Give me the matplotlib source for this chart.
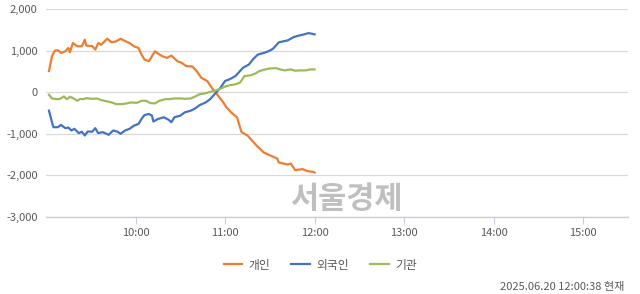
import matplotlib
matplotlib.use("Agg")
import matplotlib.pyplot as plt
import numpy as np

plt.rcParams['font.family'] = ['Noto Sans CJK KR', 'DejaVu Sans']

# minutes since 09:00
t_ind = [2,4,6,8,10,13,15,16,18,21,24,26,27,31,33,35,37,41,44,47,50,53,56,59,62,64,66,69,71,73,
         75,78,81,84,88,91,94,98,101,104,108,111,114,118,121,124,128,131,135,138,141,146,150,155,156,
         162,164,167,172,175,179,180]
v_ind = [508,865,1000,1008,944,984,1063,960,1182,1103,1103,1262,1120,1110,1024,1182,1140,1286,1198,1222,
         1286,1230,1182,1103,1063,905,786,746,865,984,930,865,825,880,746,706,627,620,508,349,
         270,111,-24,-206,-365,-484,-603,-960,-1040,-1159,-1278,-1452,-1516,-1595,-1690,
         -1738,-1714,-1873,-1849,-1897,-1913,-1930]

t_for = [2,4,5,8,10,13,15,17,19,22,24,26,28,31,33,35,38,42,45,48,50,53,56,59,62,64,66,69,71,72,
         75,79,82,84,86,90,93,97,100,103,107,110,113,117,120,123,127,130,132,136,139,142,146,149,152,
         156,159,162,166,169,172,176,180]
v_for = [-444,-722,-841,-841,-786,-865,-850,-920,-880,-984,-950,-1040,-944,-950,-865,-984,-960,-1024,-920,-950,
         -1000,-920,-881,-802,-762,-643,-548,-524,-563,-706,-643,-603,-659,-722,-603,-563,-484,-444,-389,-310,
         -246,-167,-48,111,270,310,389,508,587,667,802,905,944,984,1040,1198,1222,1246,1325,1357,
         1381,1421,1390]

t_ins = [2,4,7,9,12,14,16,18,21,23,25,27,31,34,37,41,44,47,51,54,57,61,64,67,70,73,76,80,83,86,
         90,93,97,100,103,107,110,113,117,120,123,127,130,133,137,140,143,147,150,154,157,160,164,167,170,
         174,177,180]
v_ins = [-63,-150,-167,-167,-103,-167,-111,-140,-206,-160,-170,-143,-160,-150,-190,-222,-246,-286,-286,-270,
         -246,-255,-206,-206,-262,-270,-206,-167,-167,-150,-150,-160,-150,-103,-48,-24,8,32,87,135,
         167,190,230,389,405,444,508,548,571,579,548,524,548,516,524,524,548,548]

series = ['개인', '외국인', '기관']
colors = ['#ED7D31', '#4472C4', '#9BBB59']
hour_ticks = [60, 120, 180, 240, 300, 360]
hour_labels = ['10:00', '11:00', '12:00', '13:00', '14:00', '15:00']
y_ticks = [-3000, -2000, -1000, 0, 1000, 2000]

fig = plt.figure(figsize=(6.4, 2.94), dpi=100)
ax = fig.add_axes([46/640, 1 - 217/294, 582/640, 208/294])

for t, v, name, c in zip([t_ind, t_for, t_ins], [v_ind, v_for, v_ins], series, colors):
    ax.plot(t, v, color=c, lw=1.6, label=name, solid_joinstyle='round')

ax.set_xlim(0, 390)
ax.set_ylim(-3000, 2000)
ax.set_yticks(y_ticks)
ax.set_yticklabels([f'{y:,}' for y in y_ticks])
ax.set_xticks(hour_ticks)
ax.set_xticklabels(hour_labels)
ax.grid(axis='y', color='#D9D9D9', lw=0.9)
ax.set_axisbelow(True)
for s in ['left', 'right', 'top']:
    ax.spines[s].set_visible(False)
ax.spines['bottom'].set_color('#C5CFDF')
ax.spines['bottom'].set_linewidth(1.0)
ax.tick_params(axis='y', length=0, pad=6, labelsize=8, labelcolor='#595959')
ax.tick_params(axis='x', length=5, color='#C5CFDF', pad=3, labelsize=8, labelcolor='#595959')

# watermark
fig.text(346/640, 1 - 199/294, '서울경제', fontsize=22, fontweight='bold', color='#BFBFBF',
         ha='center', va='center')

leg = fig.legend(loc='center', bbox_to_anchor=(320/640, 1 - 265/294), ncol=3, frameon=False,
                 fontsize=8.5, handlelength=1.6, columnspacing=1.8, handletextpad=0.5)
for txt in leg.get_texts():
    txt.set_color('#595959')

fig.text(624/640, 1 - 287/294, '2025.06.20 12:00:38 현재', fontsize=8, color='#595959',
         ha='right', va='center')

fig.savefig('out.png', dpi=100)
